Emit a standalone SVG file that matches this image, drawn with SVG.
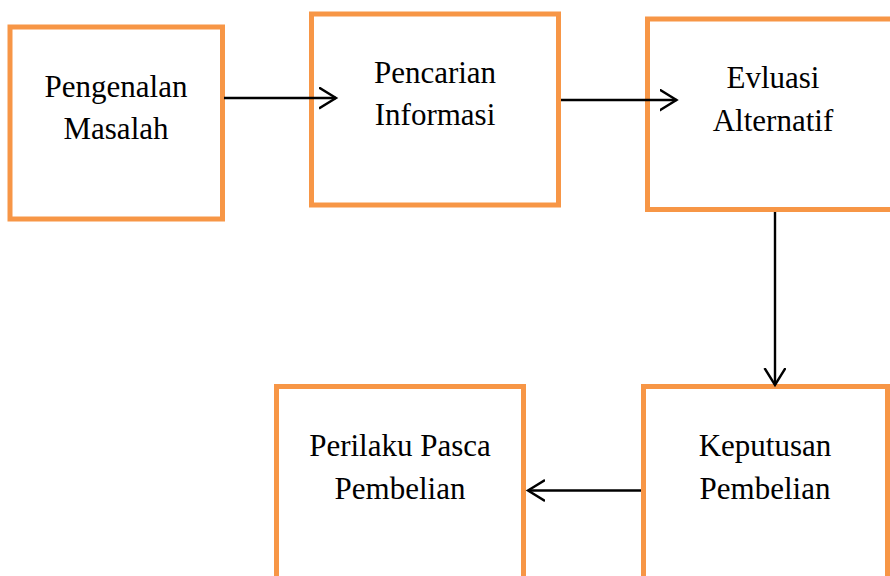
<svg xmlns="http://www.w3.org/2000/svg" width="890" height="576" viewBox="0 0 890 576">
<style>
.box{fill:#fff;stroke:#F79646;stroke-width:5}
.lbl{font-family:"Liberation Serif","Times New Roman",serif;font-size:31px;fill:#000;text-anchor:middle}
.conn{stroke:#000;stroke-width:2.4;fill:none}
</style>
<defs>
<marker id="ah" markerUnits="userSpaceOnUse" markerWidth="20" markerHeight="24" refX="17" refY="11" orient="auto" viewBox="0 0 20 24">
<path d="M0,0.5 L17,11 L0,21.5" fill="none" stroke="#000" stroke-width="2.4"/>
</marker>
</defs>
<rect width="890" height="576" fill="#fff"/>
<g id="n1"><rect class="box" x="10" y="27" width="212.5" height="192"/>
<text class="lbl" x="116" y="96.5">Pengenalan</text><text class="lbl" x="116" y="138.5">Masalah</text></g>
<g id="n2"><rect class="box" x="311.5" y="14" width="247" height="191"/>
<text class="lbl" x="435" y="82.5">Pencarian</text><text class="lbl" x="435" y="124.5">Informasi</text></g>
<g id="n3"><rect class="box" x="647.5" y="19" width="251" height="190.5"/>
<text class="lbl" x="773" y="87.5">Evluasi</text><text class="lbl" x="773" y="131">Alternatif</text></g>
<g id="n4"><rect class="box" x="276.5" y="386.5" width="247" height="220"/>
<text class="lbl" x="400" y="456">Perilaku Pasca</text><text class="lbl" x="400" y="498.5">Pembelian</text></g>
<g id="n5"><rect class="box" x="643.5" y="386.5" width="244" height="220"/>
<text class="lbl" x="765" y="456">Keputusan</text><text class="lbl" x="765" y="498.5">Pembelian</text></g>
<g id="connectors">
<line class="conn" x1="224" y1="98" x2="336" y2="98" marker-end="url(#ah)"/>
<line class="conn" x1="561" y1="100" x2="676.5" y2="100" marker-end="url(#ah)"/>
<line class="conn" x1="775" y1="212" x2="775" y2="385" marker-end="url(#ah)"/>
<line class="conn" x1="641" y1="490.5" x2="528" y2="490.5" marker-end="url(#ah)"/>
</g>
</svg>
